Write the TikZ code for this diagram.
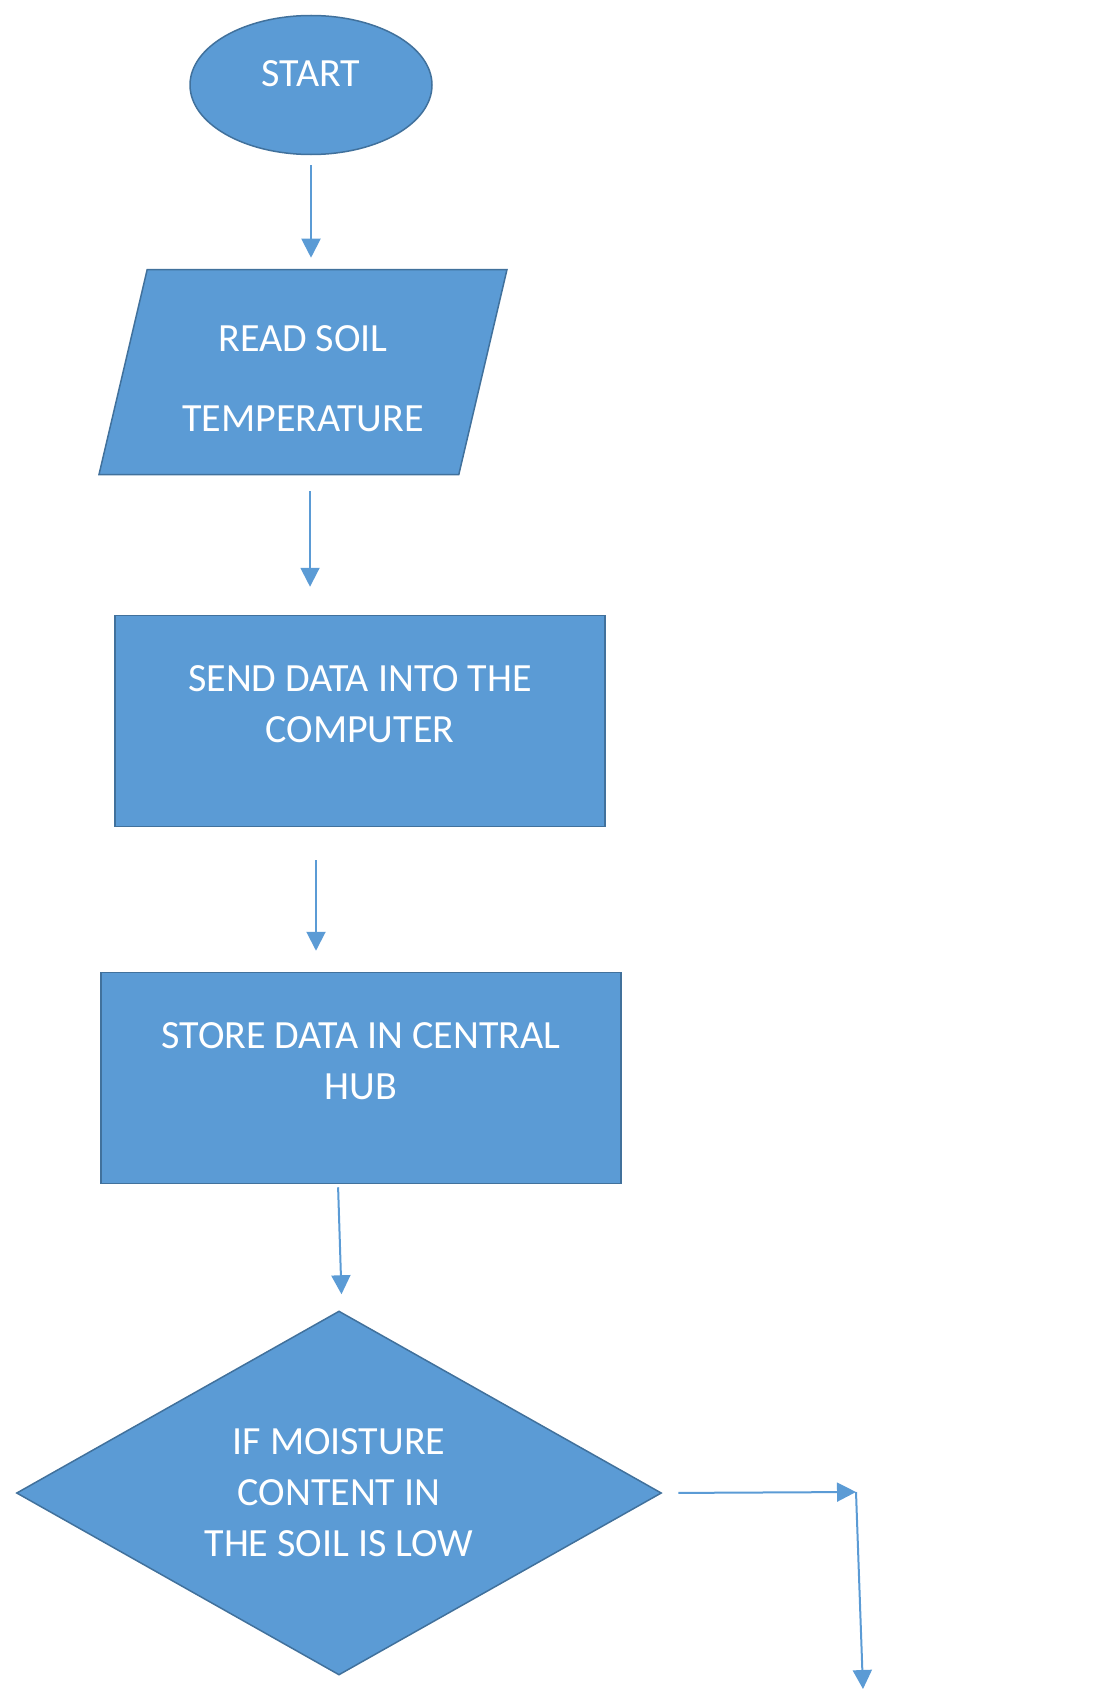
\documentclass[tikz,border=0pt]{standalone}
\usepackage{fontspec}
\setmainfont{Carlito}
\usetikzlibrary{shapes.geometric,arrows.meta}
\definecolor{boxblue}{HTML}{5B9BD5}
\definecolor{edgeblue}{HTML}{41719C}
\begin{document}
\begin{tikzpicture}[x=1pt, y=-1pt, >={Triangle[length=19pt,width=19pt]},
	b/.style={fill=boxblue, draw=edgeblue, line width=1.5pt, text=white, align=center, inner sep=0, font=\fontsize{40}{51}\selectfont},
	f/.style={boxblue, line width=2pt, ->}]
	\useasboundingbox (0,0) rectangle (1094,1691);
	\node[b, ellipse, minimum width=242, minimum height=139] (start) at (311,85) {START\\[-29pt]\mbox{}};
	\node[b, trapezium, trapezium left angle=68, trapezium right angle=112, trapezium stretches body=true, minimum width=408, minimum height=205] (read) at (303,372) {\mbox{}\\[-12pt]READ SOIL\\[29pt]TEMPERATURE};
	\node[b, minimum width=490, minimum height=211] (send) at (360,721) {SEND DATA INTO THE\\COMPUTER\\[-18pt]\mbox{}};
	\node[b, minimum width=520, minimum height=211] (store) at (361,1078) {STORE DATA IN CENTRAL\\HUB\\[-18pt]\mbox{}};
	\node[b, diamond, aspect=1.77, minimum width=645, minimum height=364] (decide) at (339,1493) {IF MOISTURE\\CONTENT IN\\THE SOIL IS LOW};
	\coordinate (bend) at (856,1492);
	\coordinate (drop) at (863,1689);
	\draw[f, shorten <=10pt, shorten >=11pt] (start.south) -- (start.south |- read.north);
	\draw[f, shorten <=16pt, shorten >=28pt] ([xshift=7pt]read.south) -- ([xshift=7pt]read.south |- send.north);
	\draw[f, shorten <=33pt, shorten >=21pt] ([xshift=-44pt]send.south) -- ([xshift=-44pt]send.south |- store.north);
	\draw[f, shorten <=3pt, shorten >=16pt] ([xshift=-23pt]store.south) -- ([xshift=3pt]decide.north);
	\draw[f, shorten <=16pt] (decide.east) -- (bend);
	\draw[f] (bend) -- (drop);
\end{tikzpicture}
\end{document}
